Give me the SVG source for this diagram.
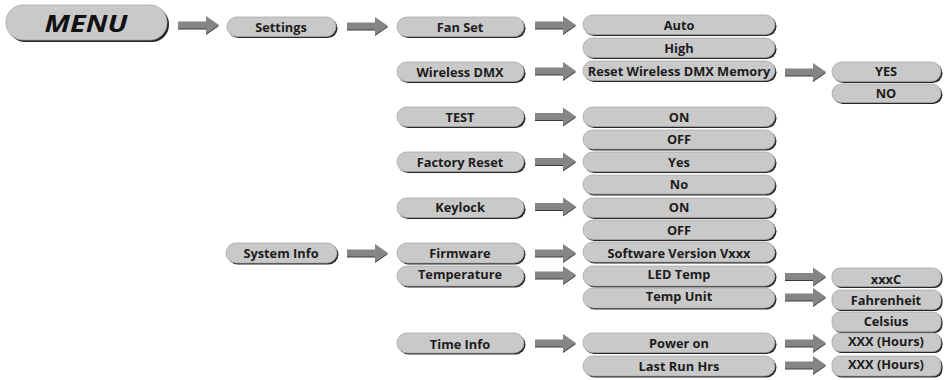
<svg xmlns="http://www.w3.org/2000/svg" xmlns:xlink="http://www.w3.org/1999/xlink" width="944" height="380" viewBox="0 0 944 380">
<defs>
<style>
.sh{fill:#262626}
.bg{fill:#c9c9c9;stroke:#a8a8a8;stroke-width:0.8}
text{font-family:"Open Sans","Liberation Sans",sans-serif;font-weight:bold;font-size:12.8px;fill:#1c1c1c;text-anchor:middle}
.menu{font-size:24px;font-style:italic;fill:#111}
.as{fill:#3a3a3a}
.af{fill:#858585}
</style>
<g id="arrow">
<path class="as" d="M0,-2.5 H28 V-8 L41,1 L28,10 V4.5 H0 Z"/>
<path class="af" d="M0,-3.5 H28 V-9 L41,0 L28,9 V3.5 H0 Z"/>
</g>
</defs>
<rect width="944" height="380" fill="#fff"/>

<g id="connectors">
<use xlink:href="#arrow" x="178" y="25"/>
<use xlink:href="#arrow" x="347" y="26"/>
<use xlink:href="#arrow" x="535" y="25"/>
<use xlink:href="#arrow" x="535" y="71"/>
<use xlink:href="#arrow" x="785" y="72"/>
<use xlink:href="#arrow" x="535" y="116.5"/>
<use xlink:href="#arrow" x="535" y="161.5"/>
<use xlink:href="#arrow" x="535" y="206.5"/>
<use xlink:href="#arrow" x="347" y="253"/>
<use xlink:href="#arrow" x="535" y="253"/>
<use xlink:href="#arrow" x="535" y="275"/>
<use xlink:href="#arrow" x="785" y="276.5"/>
<use xlink:href="#arrow" x="785" y="297"/>
<use xlink:href="#arrow" x="535" y="343"/>
<use xlink:href="#arrow" x="785" y="343"/>
<use xlink:href="#arrow" x="785" y="365"/>
</g>

<g id="menu"><rect class="sh" x="8" y="7" width="161" height="35" rx="17"/><rect class="bg" x="6" y="5" width="161" height="35" rx="17"/><text class="menu" x="86" y="32" textLength="83" lengthAdjust="spacingAndGlyphs">MENU</text></g>

<g id="settings"><rect class="sh" x="228.5" y="18.5" width="109" height="19.5" rx="9.7"/><rect class="bg" x="227" y="17" width="109" height="19.5" rx="9.7"/><text x="281" y="31.5">Settings</text></g>
<g id="system-info"><rect class="sh" x="227.5" y="244.5" width="111" height="20" rx="10"/><rect class="bg" x="226" y="243" width="111" height="20" rx="10"/><text x="281" y="257.5">System Info</text></g>

<g id="fan-set"><rect class="sh" x="398.5" y="18.5" width="127" height="19.5" rx="9.7"/><rect class="bg" x="397" y="17" width="127" height="19.5" rx="9.7"/><text x="460" y="31.5">Fan Set</text></g>
<g id="wireless-dmx"><rect class="sh" x="398.5" y="63.5" width="127" height="19.5" rx="9.7"/><rect class="bg" x="397" y="62" width="127" height="19.5" rx="9.7"/><text x="460" y="76.5">Wireless DMX</text></g>
<g id="test"><rect class="sh" x="398.5" y="108.5" width="127" height="19.5" rx="9.7"/><rect class="bg" x="397" y="107" width="127" height="19.5" rx="9.7"/><text x="460" y="122">TEST</text></g>
<g id="factory-reset"><rect class="sh" x="398.5" y="153.5" width="127" height="19.5" rx="9.7"/><rect class="bg" x="397" y="152" width="127" height="19.5" rx="9.7"/><text x="460" y="166.5">Factory Reset</text></g>
<g id="keylock"><rect class="sh" x="398.5" y="199.5" width="127" height="19.5" rx="9.7"/><rect class="bg" x="397" y="198" width="127" height="19.5" rx="9.7"/><text x="460" y="212">Keylock</text></g>
<g id="firmware"><rect class="sh" x="398.5" y="244.5" width="127" height="20" rx="10"/><rect class="bg" x="397" y="243" width="127" height="20" rx="10"/><text x="460" y="258">Firmware</text></g>
<g id="temperature"><rect class="sh" x="398.5" y="267.5" width="127" height="20" rx="10"/><rect class="bg" x="397" y="266" width="127" height="20" rx="10"/><text x="460" y="279">Temperature</text></g>
<g id="time-info"><rect class="sh" x="398.5" y="334.5" width="127" height="20" rx="10"/><rect class="bg" x="397" y="333" width="127" height="20" rx="10"/><text x="460" y="348.5">Time Info</text></g>

<g id="auto"><rect class="sh" x="584.5" y="16.5" width="192" height="19.5" rx="9.7"/><rect class="bg" x="583" y="15" width="192" height="19.5" rx="9.7"/><text x="679" y="30">Auto</text></g>
<g id="high"><rect class="sh" x="584.5" y="39.5" width="192" height="19.5" rx="9.7"/><rect class="bg" x="583" y="38" width="192" height="19.5" rx="9.7"/><text x="679" y="52.5">High</text></g>
<g id="reset-memory"><rect class="sh" x="584.5" y="62.5" width="192" height="19.5" rx="9.7"/><rect class="bg" x="583" y="61" width="192" height="19.5" rx="9.7"/><text x="679" y="75.5">Reset Wireless DMX Memory</text></g>
<g id="test-on"><rect class="sh" x="584.5" y="108.5" width="192" height="19.5" rx="9.7"/><rect class="bg" x="583" y="107" width="192" height="19.5" rx="9.7"/><text x="679" y="121.5">ON</text></g>
<g id="test-off"><rect class="sh" x="584.5" y="131.5" width="192" height="19" rx="9.5"/><rect class="bg" x="583" y="130" width="192" height="19" rx="9.5"/><text x="679" y="144">OFF</text></g>
<g id="reset-yes"><rect class="sh" x="584.5" y="153.5" width="192" height="19.5" rx="9.7"/><rect class="bg" x="583" y="152" width="192" height="19.5" rx="9.7"/><text x="679" y="166.5">Yes</text></g>
<g id="reset-no"><rect class="sh" x="584.5" y="176.5" width="192" height="19" rx="9.5"/><rect class="bg" x="583" y="175" width="192" height="19" rx="9.5"/><text x="679" y="189">No</text></g>
<g id="keylock-on"><rect class="sh" x="584.5" y="199.5" width="192" height="19.5" rx="9.7"/><rect class="bg" x="583" y="198" width="192" height="19.5" rx="9.7"/><text x="679" y="212">ON</text></g>
<g id="keylock-off"><rect class="sh" x="584.5" y="221.5" width="192" height="19.5" rx="9.7"/><rect class="bg" x="583" y="220" width="192" height="19.5" rx="9.7"/><text x="679" y="234.5">OFF</text></g>
<g id="software-version"><rect class="sh" x="584.5" y="243.5" width="192" height="20" rx="10"/><rect class="bg" x="583" y="242" width="192" height="20" rx="10"/><text x="679" y="258">Software Version Vxxx</text></g>
<g id="led-temp"><rect class="sh" x="584.5" y="267.5" width="192" height="20" rx="10"/><rect class="bg" x="583" y="266" width="192" height="20" rx="10"/><text x="679" y="279">LED Temp</text></g>
<g id="temp-unit"><rect class="sh" x="584.5" y="289.5" width="192" height="20" rx="10"/><rect class="bg" x="583" y="288" width="192" height="20" rx="10"/><text x="679" y="300.5">Temp Unit</text></g>
<g id="power-on"><rect class="sh" x="584.5" y="334.5" width="192" height="19.5" rx="9.7"/><rect class="bg" x="583" y="333" width="192" height="19.5" rx="9.7"/><text x="679" y="348">Power on</text></g>
<g id="last-run"><rect class="sh" x="584.5" y="357.5" width="192" height="20" rx="10"/><rect class="bg" x="583" y="356" width="192" height="20" rx="10"/><text x="679" y="370.5">Last Run Hrs</text></g>

<g id="yes"><rect class="sh" x="833.5" y="63.5" width="109" height="19.5" rx="9.7"/><rect class="bg" x="832" y="62" width="109" height="19.5" rx="9.7"/><text x="886" y="75.5">YES</text></g>
<g id="no"><rect class="sh" x="833.5" y="85.5" width="109" height="18.5" rx="9.2"/><rect class="bg" x="832" y="84" width="109" height="18.5" rx="9.2"/><text x="886" y="98">NO</text></g>
<g id="xxxc"><rect class="sh" x="833.5" y="269.5" width="109" height="18.5" rx="8"/><rect class="bg" x="832" y="268" width="109" height="18.5" rx="8"/><text x="886" y="283.5">xxxC</text></g>
<g id="fahrenheit"><rect class="sh" x="833.5" y="291.5" width="109" height="19.5" rx="8"/><rect class="bg" x="832" y="290" width="109" height="19.5" rx="8"/><text x="886" y="304.5">Fahrenheit</text></g>
<g id="celsius"><rect class="sh" x="833.5" y="313.5" width="109" height="19.5" rx="8"/><rect class="bg" x="832" y="312" width="109" height="19.5" rx="8"/><text x="886" y="326">Celsius</text></g>
<g id="power-on-hours"><rect class="sh" x="833.5" y="334.5" width="109" height="18.5" rx="8"/><rect class="bg" x="832" y="333" width="109" height="18.5" rx="8"/><text x="886" y="346">XXX (Hours)</text></g>
<g id="last-run-hours"><rect class="sh" x="833.5" y="357.5" width="109" height="20" rx="8"/><rect class="bg" x="832" y="356" width="109" height="20" rx="8"/><text x="886" y="368.5">XXX (Hours)</text></g>
</svg>
